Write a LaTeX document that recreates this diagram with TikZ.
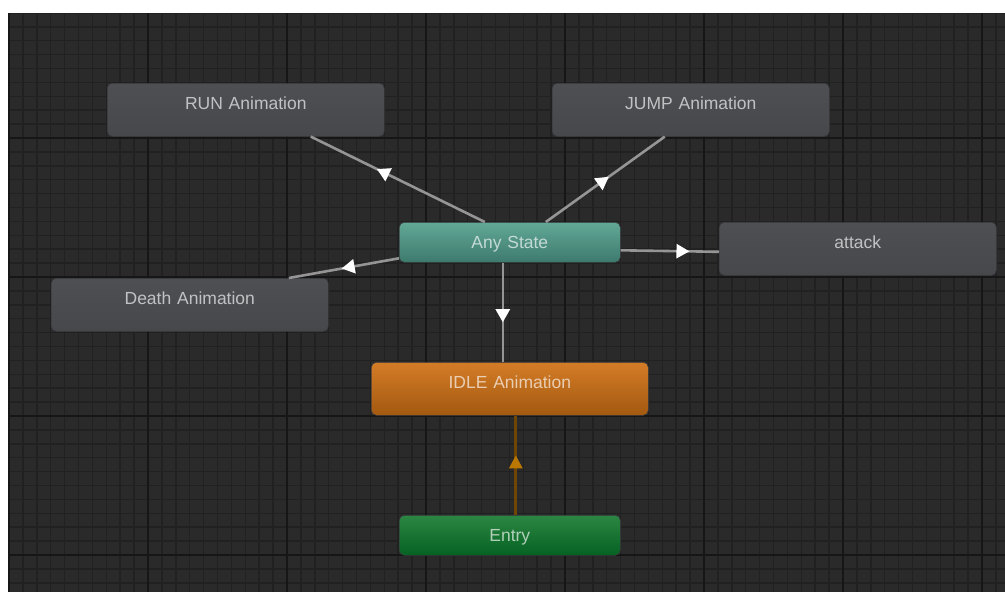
\documentclass[tikz,border=0pt]{standalone}
\usepackage{fontspec}
\setmainfont{Liberation Sans}
\usetikzlibrary{arrows.meta,decorations.markings,calc}
\definecolor{bgdark}{HTML}{2A2A2A}
\definecolor{gridminor}{HTML}{212121}
\definecolor{gridmajor}{HTML}{161616}
\definecolor{graytop}{HTML}{4D4F53}
\definecolor{graybot}{HTML}{46484C}
\definecolor{tealtop}{HTML}{62A897}
\definecolor{tealbot}{HTML}{3D7A6D}
\definecolor{orangetop}{HTML}{D47C27}
\definecolor{orangebot}{HTML}{A35910}
\definecolor{greentop}{HTML}{2C8643}
\definecolor{greenbot}{HTML}{056222}
\definecolor{connline}{HTML}{959595}
\definecolor{entryline}{HTML}{704500}
\definecolor{entryarrow}{HTML}{BA7800}
\definecolor{nodeedge}{HTML}{3A3C3F}
\tikzset{
  statebox/.style={rounded corners=5pt, draw=nodeedge, line width=0.6pt,
    inner xsep=0pt, inner ysep=0pt, anchor=north west, align=center,
    text=white, text opacity=0.66, font=\fontsize{17.5pt}{20pt}\selectfont,
    text height=26pt},
  tallbox/.style={statebox, text width=277pt, text depth=27pt},
  shortbox/.style={statebox, text width=221pt, text depth=14pt},
  graystate/.style={top color=graytop, bottom color=graybot},
  tealstate/.style={top color=tealtop, bottom color=tealbot},
  orangestate/.style={top color=orangetop, bottom color=orangebot},
  greenstate/.style={top color=greentop, bottom color=greenbot},
  conn/.style={draw=connline, line width=2.6pt},
  entryconn/.style={draw=entryline, line width=2.8pt},
  midarrow/.style={postaction={decorate, decoration={markings,
    mark=at position #1 with {\arrow[white]{Triangle[length=13pt,width=14pt]}}}}},
  entryarrowmark/.style={postaction={decorate, decoration={markings,
    mark=at position #1 with {\arrow[entryarrow]{Triangle[length=13pt,width=13pt]}}}}},
  minorline/.style={draw=gridminor, line width=1.5pt},
  majorline/.style={draw=gridmajor, line width=2pt}
}
\begin{document}
\begin{tikzpicture}[x=1pt, y=-1pt]
\useasboundingbox (0,0) rectangle (1005,592);
\fill[white] (0,0) rectangle (1005,592);
\fill[bgdark] (8,13) rectangle (1005,592);
\begin{scope}
  \clip (8,13) rectangle (1005,592);
  \foreach \i in {0,...,72} {
    \draw[minorline] ({9+\i*13.9},13) -- ({9+\i*13.9},592);
  }
  \foreach \j in {1,...,43} {
    \draw[minorline] (8,{-1+\j*13.9}) -- (1005,{-1+\j*13.9});
  }
  \foreach \i in {0,...,7} {
    \draw[majorline] ({9+\i*139},13) -- ({9+\i*139},592);
  }
  \foreach \j in {1,...,4} {
    \draw[majorline] (8,{-1+\j*139}) -- (1005,{-1+\j*139});
  }
\end{scope}

\node[tallbox, graystate] (run) at (107,83) {RUN Animation};
\node[tallbox, graystate] (jump) at (552,83) {JUMP Animation};
\node[shortbox, tealstate] (any) at (399,222) {Any State};
\node[tallbox, graystate] (attack) at (719,222) {attack};
\node[tallbox, graystate] (death) at (51,278) {Death Animation};
\node[tallbox, orangestate] (idle) at (371,362) {IDLE Animation};
\node[shortbox, greenstate] (entry) at (399,515) {Entry};

\draw[conn, midarrow=0.62] ([xshift=-25pt]any.north) -- ([xshift=65pt]run.south);
\draw[conn, midarrow=0.53] ([xshift=36pt]any.north) -- ([xshift=-26pt]jump.south);
\draw[conn, midarrow=0.7] ([yshift=-8pt]any.east) -- ([yshift=-3pt]attack.west);
\draw[conn, midarrow=0.52] ([yshift=-16pt]any.west) -- ([xshift=99pt]death.north);
\draw[conn, midarrow=0.6] ([xshift=-7pt]any.south) -- ([xshift=-7pt]idle.north);
\draw[entryconn, entryarrowmark=0.6] ([xshift=6pt]entry.north) -- ([xshift=6pt]idle.south);
\end{tikzpicture}
\end{document}
